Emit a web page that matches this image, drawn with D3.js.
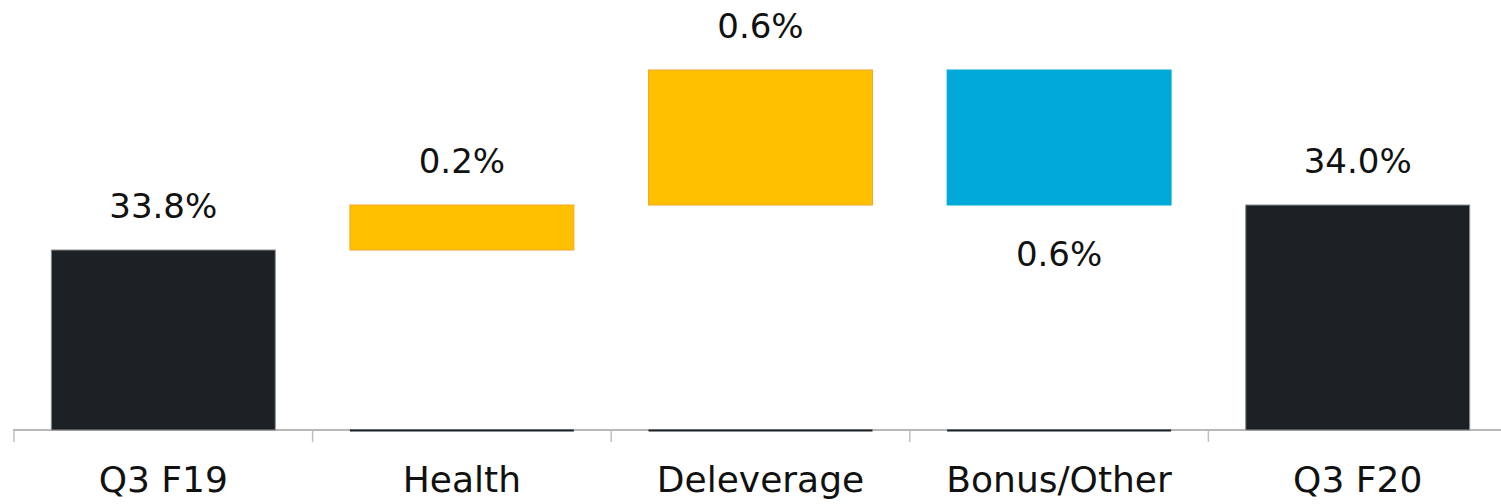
<!DOCTYPE html>
<html>
<head>
<meta charset="utf-8">
<script src="https://cdn.jsdelivr.net/npm/d3@7"></script>
<style>
  body { margin: 0; background: #fff; }
  text { font-family: "Century Gothic", "DejaVu Sans", sans-serif; fill: #111; }
</style>
</head>
<body>
<svg width="1501" height="504"></svg>
<script>
// waterfall data
var categories = ["Q3 F19", "Health", "Deleverage", "Bonus/Other", "Q3 F20"];
var values = [33.8, 0.2, 0.6, -0.6, 34.0];
var kinds = ["total", "up", "up", "down", "total"];
var valueLabels = ["33.8%", "0.2%", "0.6%", "0.6%", "34.0%"];

var colors = { total: "#1b2124", up: "#ffc000", down: "#00aad8" };
var strokes = { total: "#8a8c8d", up: "#f5a623", down: "#00aad8" };

var svg = d3.select("svg");

var x = d3.scaleBand()
    .domain(categories)
    .range([14, 1507])
    .paddingInner(0.25)
    .paddingOuter(0.125);

var y = d3.scaleLinear()
    .domain([33.0, 34.6])
    .range([430, 70]);

// running totals -> start/end of each bar
var running = 0;
var bars = categories.map(function (c, i) {
  var d = { name: c, kind: kinds[i], label: valueLabels[i], value: values[i] };
  if (kinds[i] == "total") {
    d.y0 = y.domain()[0];
    d.y1 = values[i];
    running = values[i];
  } else {
    d.y0 = running;
    d.y1 = running + values[i];
    running = d.y1;
  }
  return d;
});

// axis line + boundary ticks
var axisY = y(y.domain()[0]);
svg.append("line")
    .attr("x1", 13).attr("x2", 1501)
    .attr("y1", axisY).attr("y2", axisY)
    .attr("stroke", "#a0a0a0").attr("stroke-width", 1.5);

d3.range(categories.length + 1).forEach(function (i) {
  var tx = x.range()[0] + i * x.step();
  svg.append("line")
      .attr("x1", tx).attr("x2", tx)
      .attr("y1", axisY).attr("y2", axisY + 12)
      .attr("stroke", "#c0c0c0").attr("stroke-width", 1.5);
});

// thin base line under floating bars
svg.selectAll(".base")
    .data(bars.filter(function (d) { return d.kind != "total"; }))
    .enter().append("rect")
    .attr("x", function (d) { return x(d.name); })
    .attr("y", axisY - 0.5)
    .attr("width", x.bandwidth())
    .attr("height", 2)
    .attr("fill", "#1b2124");

svg.selectAll(".bar")
    .data(bars)
    .enter().append("rect")
    .attr("class", "bar")
    .attr("x", function (d) { return x(d.name); })
    .attr("y", function (d) { return y(Math.max(d.y0, d.y1)); })
    .attr("width", x.bandwidth())
    .attr("height", function (d) { return Math.abs(y(d.y0) - y(d.y1)); })
    .attr("fill", function (d) { return colors[d.kind]; })
    .attr("stroke", function (d) { return strokes[d.kind]; })
    .attr("stroke-width", 1);

// value labels: above the bar, or below it for a decrease
svg.selectAll(".val")
    .data(bars)
    .enter().append("text")
    .attr("x", function (d) { return x(d.name) + x.bandwidth() / 2; })
    .attr("y", function (d) {
      if (d.kind == "down") return y(Math.min(d.y0, d.y1)) + 61;
      return y(Math.max(d.y0, d.y1)) - 32;
    })
    .attr("text-anchor", "middle")
    .attr("font-size", 34)
    .text(function (d) { return d.label; });

// category labels
svg.selectAll(".cat")
    .data(categories)
    .enter().append("text")
    .attr("x", function (d) { return x(d) + x.bandwidth() / 2; })
    .attr("y", 492)
    .attr("text-anchor", "middle")
    .attr("font-size", 36)
    .text(function (d) { return d; });
</script>
</body>
</html>
